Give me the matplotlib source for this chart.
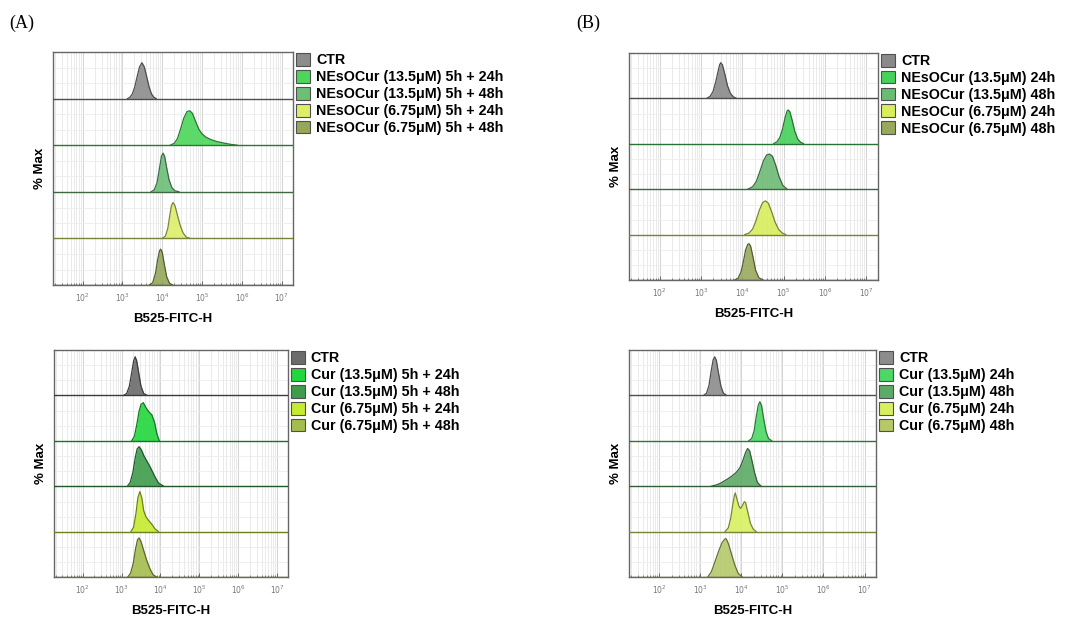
import numpy as np
import matplotlib
matplotlib.use("Agg")
import matplotlib.pyplot as plt
from matplotlib.patches import Patch
from matplotlib.ticker import FixedLocator, NullFormatter

plt.rcParams['font.family'] = ['Liberation Sans', 'DejaVu Sans']

# ---- data: curves as (log10 intensity, height as fraction of row) ----
# panel A top
a_top_labels = ['CTR', 'NEsOCur (13.5μM) 5h + 24h', 'NEsOCur (13.5μM) 5h + 48h',
                'NEsOCur (6.75μM) 5h + 24h', 'NEsOCur (6.75μM) 5h + 48h']
a_top_colors = ['#8c8c8c', '#4cd65a', '#6cbf78', '#dcee6a', '#95a85a']
a_top_x = [
    [3.13, 3.19, 3.25, 3.31, 3.37, 3.43, 3.49, 3.55, 3.61, 3.67, 3.73, 3.79, 3.85],
    [4.20, 4.30, 4.38, 4.46, 4.54, 4.62, 4.69, 4.76, 4.84, 4.92, 5.00, 5.10, 5.22, 5.36, 5.52, 5.70, 5.88],
    [3.72, 3.80, 3.87, 3.93, 3.98, 4.02, 4.06, 4.11, 4.17, 4.24, 4.32, 4.42],
    [4.00, 4.08, 4.14, 4.19, 4.23, 4.27, 4.32, 4.38, 4.45, 4.52, 4.60, 4.70],
    [3.68, 3.76, 3.83, 3.88, 3.93, 3.96, 4.00, 4.05, 4.11, 4.18, 4.26],
]
a_top_y = [
    [0.0, 0.03, 0.10, 0.25, 0.47, 0.68, 0.77, 0.68, 0.47, 0.25, 0.10, 0.03, 0.0],
    [0.0, 0.04, 0.14, 0.35, 0.58, 0.72, 0.74, 0.68, 0.50, 0.34, 0.24, 0.17, 0.12, 0.08, 0.05, 0.02, 0.0],
    [0.0, 0.04, 0.20, 0.50, 0.76, 0.83, 0.76, 0.52, 0.26, 0.09, 0.02, 0.0],
    [0.0, 0.05, 0.22, 0.50, 0.70, 0.77, 0.70, 0.50, 0.28, 0.12, 0.03, 0.0],
    [0.0, 0.05, 0.25, 0.52, 0.73, 0.77, 0.70, 0.45, 0.18, 0.04, 0.0],
]

# panel A bottom
a_bot_labels = ['CTR', 'Cur (13.5μM) 5h + 24h', 'Cur (13.5μM) 5h + 48h',
                'Cur (6.75μM) 5h + 24h', 'Cur (6.75μM) 5h + 48h']
a_bot_colors = ['#6b6b6b', '#22d63c', '#3e9c4c', '#c6ea2e', '#a3bd4e']
a_bot_x = [
    [3.05, 3.13, 3.20, 3.26, 3.31, 3.35, 3.39, 3.44, 3.50, 3.57, 3.66],
    [3.26, 3.33, 3.39, 3.45, 3.50, 3.56, 3.62, 3.70, 3.78, 3.85, 3.91, 3.97],
    [3.15, 3.22, 3.29, 3.35, 3.40, 3.45, 3.51, 3.58, 3.66, 3.75, 3.85, 3.95, 4.08],
    [3.24, 3.31, 3.37, 3.42, 3.47, 3.52, 3.57, 3.63, 3.70, 3.78, 3.86, 3.95],
    [3.16, 3.23, 3.30, 3.36, 3.41, 3.45, 3.50, 3.57, 3.65, 3.73, 3.81, 3.90],
]
a_bot_y = [
    [0.0, 0.04, 0.20, 0.50, 0.76, 0.85, 0.76, 0.50, 0.20, 0.04, 0.0],
    [0.0, 0.10, 0.35, 0.65, 0.80, 0.84, 0.74, 0.64, 0.57, 0.40, 0.15, 0.0],
    [0.0, 0.08, 0.30, 0.62, 0.82, 0.87, 0.80, 0.66, 0.54, 0.40, 0.22, 0.07, 0.0],
    [0.0, 0.10, 0.40, 0.75, 0.88, 0.74, 0.46, 0.32, 0.24, 0.16, 0.06, 0.0],
    [0.0, 0.08, 0.30, 0.62, 0.82, 0.86, 0.78, 0.58, 0.36, 0.18, 0.05, 0.0],
]

# panel B top
b_top_labels = ['CTR', 'NEsOCur (13.5μM) 24h', 'NEsOCur (13.5μM) 48h',
                'NEsOCur (6.75μM) 24h', 'NEsOCur (6.75μM) 48h']
b_top_colors = ['#8a8a8a', '#45d15a', '#6cbb74', '#d8ee5c', '#98a95c']
b_top_x = [
    [3.15, 3.22, 3.29, 3.35, 3.41, 3.45, 3.48, 3.52, 3.58, 3.64, 3.71, 3.78, 3.85],
    [4.76, 4.84, 4.91, 4.97, 5.03, 5.08, 5.11, 5.15, 5.21, 5.27, 5.34, 5.41, 5.48],
    [4.14, 4.25, 4.34, 4.43, 4.51, 4.59, 4.66, 4.73, 4.81, 4.89, 4.98, 5.08],
    [4.06, 4.16, 4.25, 4.33, 4.41, 4.49, 4.56, 4.63, 4.71, 4.79, 4.88, 4.97, 5.05],
    [3.82, 3.90, 3.97, 4.03, 4.08, 4.13, 4.16, 4.20, 4.26, 4.32, 4.40, 4.50],
]
b_top_y = [
    [0.0, 0.04, 0.14, 0.33, 0.57, 0.73, 0.78, 0.73, 0.52, 0.28, 0.11, 0.03, 0.0],
    [0.0, 0.04, 0.14, 0.31, 0.55, 0.71, 0.74, 0.70, 0.50, 0.27, 0.10, 0.03, 0.0],
    [0.0, 0.05, 0.17, 0.40, 0.62, 0.75, 0.77, 0.72, 0.52, 0.27, 0.08, 0.0],
    [0.0, 0.03, 0.12, 0.30, 0.53, 0.70, 0.74, 0.69, 0.50, 0.28, 0.11, 0.03, 0.0],
    [0.0, 0.04, 0.18, 0.42, 0.66, 0.78, 0.80, 0.75, 0.50, 0.22, 0.05, 0.0],
]

# panel B bottom
b_bot_labels = ['CTR', 'Cur (13.5μM) 24h', 'Cur (13.5μM) 48h',
                'Cur (6.75μM) 24h', 'Cur (6.75μM) 48h']
b_bot_colors = ['#8c8c8c', '#4cd864', '#5daa66', '#d8f060', '#b5c96a']
b_bot_x = [
    [3.08, 3.15, 3.21, 3.26, 3.31, 3.35, 3.39, 3.44, 3.50, 3.56, 3.64],
    [4.18, 4.25, 4.31, 4.36, 4.41, 4.45, 4.49, 4.54, 4.60, 4.66, 4.74],
    [3.27, 3.40, 3.50, 3.63, 3.75, 3.87, 3.96, 4.03, 4.10, 4.15, 4.20, 4.26, 4.32, 4.39, 4.48],
    [3.60, 3.68, 3.74, 3.79, 3.83, 3.85, 3.89, 3.94, 3.98, 4.03, 4.07, 4.10, 4.15, 4.22, 4.29, 4.36],
    [3.18, 3.27, 3.36, 3.45, 3.53, 3.60, 3.63, 3.68, 3.76, 3.84, 3.92, 4.02],
]
b_bot_y = [
    [0.0, 0.05, 0.22, 0.52, 0.78, 0.85, 0.77, 0.50, 0.20, 0.05, 0.0],
    [0.0, 0.05, 0.22, 0.52, 0.78, 0.86, 0.78, 0.50, 0.20, 0.05, 0.0],
    [0.0, 0.03, 0.07, 0.14, 0.21, 0.30, 0.40, 0.55, 0.74, 0.83, 0.78, 0.55, 0.30, 0.08, 0.0],
    [0.0, 0.08, 0.30, 0.60, 0.80, 0.85, 0.72, 0.56, 0.51, 0.58, 0.66, 0.64, 0.45, 0.18, 0.05, 0.0],
    [0.0, 0.12, 0.35, 0.58, 0.76, 0.84, 0.84, 0.74, 0.50, 0.26, 0.08, 0.0],
]

decades = [2, 3, 4, 5, 6, 7]
xlim_log = (1.26, 7.28)


def darker(c, f=0.55):
    rgb = np.array(matplotlib.colors.to_rgb(c))
    return tuple(rgb * f)


def draw_panel(rect, xs, ys, colors, labels):
    ax = fig.add_axes(rect)
    n = len(xs)
    lo, hi = 10 ** xlim_log[0], 10 ** xlim_log[1]
    # grid
    minors = [m * 10 ** k for k in range(1, 8) for m in range(1, 10)]
    for v in minors:
        if lo < v < hi:
            ax.axvline(v, color='#e6e6e6', lw=0.6, zorder=0)
    for k in decades:
        ax.axvline(10 ** k, color='#d4d4d4', lw=0.7, zorder=0)
    for i in range(n):
        for f in (0.33, 0.66):
            ax.axhline(i + f, color='#ededed', lw=0.6, zorder=0)
    # curves, top row first
    for i in range(n):
        base = n - 1 - i
        x = 10 ** np.array(xs[i])
        y = base + np.array(ys[i])
        ec = darker(colors[i])
        ax.fill_between(x, base, y, color=colors[i], alpha=0.9, lw=0, zorder=2)
        ax.plot(x, y, color=ec, lw=0.9, zorder=3)
        ax.axhline(base, color=ec, lw=1.0, zorder=3)
    ax.set_xscale('log')
    ax.set_xlim(lo, hi)
    ax.set_ylim(0, n)
    ax.set_yticks([])
    ax.xaxis.set_major_locator(FixedLocator([10 ** k for k in decades]))
    ax.set_xticklabels(['$10^{%d}$' % k for k in decades], fontsize=5.5, color='#777777')
    ax.xaxis.set_minor_locator(FixedLocator([v for v in minors if lo < v < hi]))
    ax.xaxis.set_minor_formatter(NullFormatter())
    ax.tick_params(axis='x', which='major', direction='in', length=3, width=0.6,
                   color='#555555', pad=5)
    ax.tick_params(axis='x', which='minor', direction='in', length=1.5, width=0.5,
                   color='#555555')
    for s in ax.spines.values():
        s.set_color('#666666')
        s.set_linewidth(1.0)
    ax.set_xlabel('B525-FITC-H', fontsize=9.5, fontweight='bold', labelpad=6)
    ax.set_ylabel('% Max', fontsize=9.5, fontweight='bold', labelpad=5)
    handles = [Patch(facecolor=c, edgecolor='#505050', lw=0.8) for c in colors]
    ax.legend(handles, labels, loc='upper left', bbox_to_anchor=(1.012, 0.995),
              frameon=False, prop={'weight': 'bold', 'size': 10.3},
              handlelength=1.0, handleheight=1.0, handletextpad=0.4,
              labelspacing=0.18, borderaxespad=0, borderpad=0)
    return ax


fig = plt.figure(figsize=(10.73, 6.19), dpi=100)

draw_panel([0.0494, 0.5396, 0.2237, 0.3764], a_top_x, a_top_y, a_top_colors, a_top_labels)
draw_panel([0.0503, 0.0679, 0.2180, 0.3667], a_bot_x, a_bot_y, a_bot_colors, a_bot_labels)
draw_panel([0.5862, 0.5477, 0.2320, 0.3672], b_top_x, b_top_y, b_top_colors, b_top_labels)
draw_panel([0.5862, 0.0679, 0.2302, 0.3667], b_bot_x, b_bot_y, b_bot_colors, b_bot_labels)

fig.text(0.009, 0.962, '(A)', fontsize=13, family='Liberation Serif', va='center')
fig.text(0.537, 0.962, '(B)', fontsize=13, family='Liberation Serif', va='center')

fig.savefig('out.png', dpi=100)
